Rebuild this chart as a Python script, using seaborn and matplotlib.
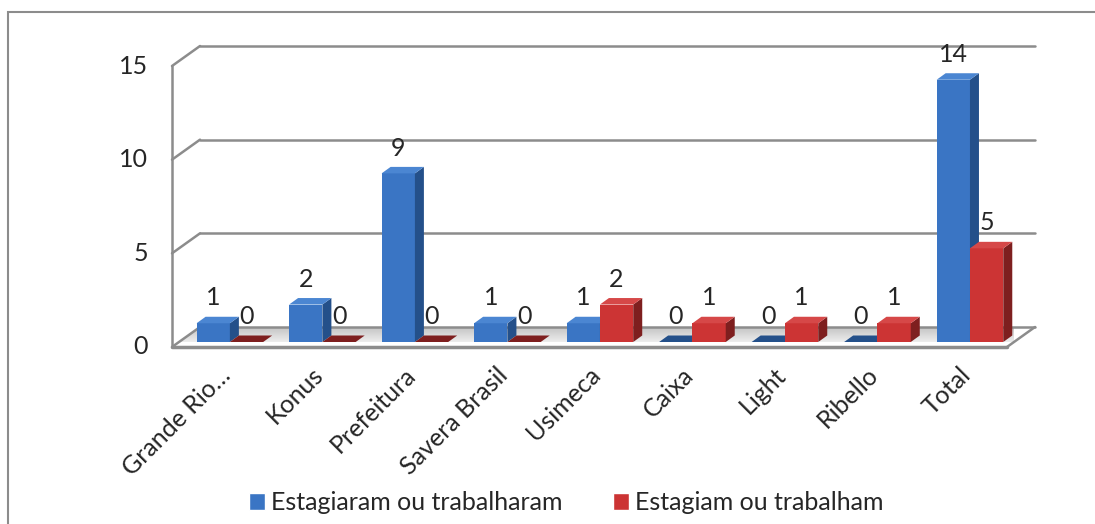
import matplotlib
matplotlib.use("Agg")
import numpy as np
import pandas as pd
import matplotlib.pyplot as plt
import seaborn as sns
from matplotlib.patches import Polygon, Rectangle
from matplotlib.lines import Line2D
from matplotlib.transforms import ScaledTranslation

# Data
categories = ["Grande Rio…", "Konus", "Prefeitura", "Savera Brasil", "Usimeca",
              "Caixa", "Light", "Ribello", "Total"]
estagiaram = [1, 2, 9, 1, 1, 0, 0, 0, 14]
estagiam = [0, 0, 0, 0, 2, 1, 1, 1, 5]
series_names = ["Estagiaram ou trabalharam", "Estagiam ou trabalham"]
yticks = [0, 5, 10, 15]

df = pd.DataFrame({
    "empresa": categories * 2,
    "serie": [series_names[0]] * len(categories) + [series_names[1]] * len(categories),
    "valor": estagiaram + estagiam,
})

front_colors = ["#3a75c4", "#cc3434"]
side_colors = ["#24508a", "#7e1f1f"]
top_colors = ["#4b86d2", "#d64848"]
grid_color = "#8c8c8c"
fs = 18

sns.set_theme(style="white")
plt.rcParams["font.family"] = ["Lato", "DejaVu Sans"]

W, H = 1095, 524
fig = plt.figure(figsize=(W / 100, H / 100), dpi=100)

# axes = plane of the bar fronts (pixels)
left_px, right_px, base_px, top_px = 179, 1014, 342, 61
ax = fig.add_axes([left_px / W, 1 - base_px / H,
                   (right_px - left_px) / W, (base_px - top_px) / H])

sns.barplot(data=df, x="empresa", y="valor", hue="serie", palette=front_colors,
            width=0.72, gap=0, saturation=1, ax=ax)

x0, x1 = -0.55, 8.476
sx = (right_px - left_px) / (x1 - x0)   # px per category
sy = (base_px - top_px) / 15            # px per unit

def off(dx, dy):
    return dx / sx, dy / sy

fx, fy = off(-7, -5)     # front plane
bx, by = off(21, 15)     # back wall
ddx, ddy = off(9, 6.5)   # bar depth

# floor with a soft gradient
floor = Polygon([(x0 + fx, fy), (x1 + fx, fy), (x1 + bx, by), (x0 + bx, by)],
                closed=True, facecolor="none", edgecolor="none", zorder=1, clip_on=False)
ax.add_patch(floor)
grad = np.linspace(0, 1, 64).reshape(-1, 1)
img = ax.imshow(grad, cmap=plt.matplotlib.colors.LinearSegmentedColormap.from_list(
    "floor", ["#fbfbfb", "#c4c4c4"]), extent=(x0 + fx, x1 + bx, fy, by),
    origin="lower", aspect="auto", zorder=1, interpolation="bilinear")
img.set_clip_path(floor)
img.set_clip_on(True)

for (xa, ya), (xb, yb), lw in [((x0 + fx, fy), (x1 + fx, fy), 2.5),
                               ((x1 + fx, fy), (x1 + bx, by), 1.8),
                               ((x0 + bx, by), (x1 + bx, by), 1.8),
                               ((x0 + fx, fy), (x0 + bx, by), 1.8)]:
    ax.add_line(Line2D([xa, xb], [ya, yb], color=grid_color, lw=lw, zorder=1.5, clip_on=False))

# back wall grid + left wall
for v in yticks[1:]:
    ax.add_line(Line2D([x0 + bx, x1 + bx], [v + by, v + by], color=grid_color, lw=1.8,
                       zorder=0.5, clip_on=False))
    ax.add_line(Line2D([x0 + fx, x0 + bx], [v + fy, v + by], color=grid_color, lw=1.8,
                       zorder=0.5, clip_on=False))
ax.add_line(Line2D([x0 + fx, x0 + fx], [fy, 15 + fy], color=grid_color, lw=1.8,
                   zorder=0.5, clip_on=False))

ax.set_xlim(x0, x1)
ax.set_ylim(0, 15)

# y labels on the front edge
for v in yticks:
    ax.text(x0 + fx - 24 / sx, v + fy, str(v), ha="right", va="center", fontsize=fs)

# 3D faces of the bars
for k, cont in enumerate(ax.containers):
    z = 3 + k
    for bar in cont:
        bar.set_zorder(z)
        bar.set_edgecolor("none")
        x, w, h = bar.get_x(), bar.get_width(), bar.get_height()
        side = Polygon([(x + w, 0), (x + w + ddx, ddy), (x + w + ddx, h + ddy), (x + w, h)],
                       closed=True, facecolor=side_colors[k], edgecolor="none", zorder=z + 0.1)
        tc = top_colors[k] if h > 0 else side_colors[k]
        top = Polygon([(x, h), (x + w, h), (x + w + ddx, h + ddy), (x + ddx, h + ddy)],
                      closed=True, facecolor=tc, edgecolor="none", zorder=z + 0.1)
        ax.add_patch(side)
        ax.add_patch(top)
    labels = ax.bar_label(cont, padding=10, fontsize=fs)
    for t in labels:
        t.set_zorder(10)

ax.set_yticks([])
ax.set_xticks(range(len(categories)))
ax.set_xticklabels(categories, fontsize=fs)
ax.tick_params(axis="x", length=0, pad=21)
shift = ScaledTranslation(-3 / 100, 0, fig.dpi_scale_trans)
for lab in ax.get_xticklabels():
    lab.set_rotation(45)
    lab.set_ha("right")
    lab.set_va("center")
    lab.set_rotation_mode("anchor")
    lab.set_transform(lab.get_transform() + shift)
ax.set_xlabel("")
ax.set_ylabel("")
for s in ax.spines.values():
    s.set_visible(False)
ax.patch.set_alpha(0)

handles, labels = ax.get_legend_handles_labels()
ax.get_legend().remove()
fig.legend(handles, labels, loc="center", bbox_to_anchor=(566 / W, 1 - 503 / H), ncol=2,
           frameon=False, fontsize=fs, handlelength=0.65, handleheight=0.65,
           handletextpad=0.25, columnspacing=2.0)

# chart area border
fig.add_artist(Rectangle((8 / W, -0.1), 1.2, 1.1 - 12 / H, transform=fig.transFigure,
                         fill=False, edgecolor="#8c8c8c", lw=1.5))

fig.savefig("out.png", dpi=100)
